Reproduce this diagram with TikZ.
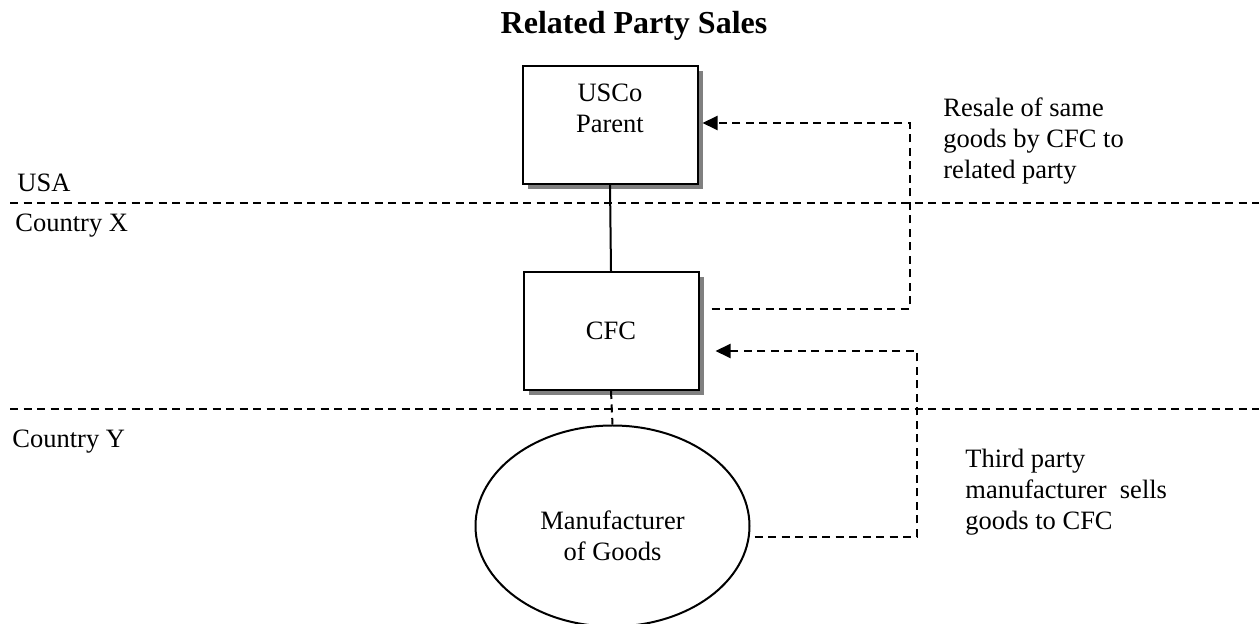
\documentclass[tikz,border=0pt]{standalone}
\usepackage{fontspec}
\setmainfont{Liberation Serif}
\usetikzlibrary{arrows.meta,shapes.geometric,shadows}
\begin{document}
\begin{tikzpicture}[x=0.5pt,y=-0.5pt,
  txt/.style={font=\fontsize{13.25}{15.5}\selectfont, inner sep=0pt},
  boxst/.style={draw, line width=1pt, fill=white, minimum width=87.5pt, minimum height=59pt, inner sep=0pt,
    drop shadow={shadow xshift=2.75pt, shadow yshift=-2.75pt, fill=black!50, opacity=1}},
  ovalst/.style={draw, ellipse, line width=1pt, minimum width=137pt, minimum height=100.5pt, inner sep=0pt},
  border/.style={line width=1pt, dash pattern=on 4pt off 2.75pt},
  flow/.style={line width=1pt, dash pattern=on 4pt off 2.75pt, -{Triangle[length=7.5pt,width=7pt]}},
  plain/.style={line width=1pt, dash pattern=on 4pt off 2.75pt},
  tie/.style={line width=1pt}]
\useasboundingbox (0,0) rectangle (1259,624);

% title
\node[inner sep=0pt, anchor=base, font=\fontsize{16}{19}\selectfont\bfseries] (title) at (634,34) {Related Party Sales};

% boundary lines
\coordinate (b1l) at (10,203); \coordinate (b1r) at (1259,203);
\coordinate (b2l) at (10,409); \coordinate (b2r) at (1259,409);
\draw[border] (b1l) -- (b1r);
\draw[border] (b2l) -- (b2r);

% country labels
\node[txt, anchor=base west] (usa) at (17,192) {USA};
\node[txt, anchor=base west] (cx) at (15,232) {Country X};
\node[txt, anchor=base west] (cy) at (12,448) {Country Y};

% entities
\node[boxst] (usco) at (610,125) {};
\node[txt, align=center, anchor=north] (uscot) at (610,84) {USCo\\Parent};
\node[boxst, font=\fontsize{13.25}{15.5}\selectfont] (cfc) at (611,331) {CFC};
\node[ovalst] (mfr) at (612.5,526) {};
\node[txt, align=center, anchor=north] (mfrt) at (612.5,510) {Manufacturer\\of Goods};

% links
\draw[tie] (usco.south) -- (cfc.north);
\draw[plain] (cfc.south) -- (mfr.north);

\draw[flow] ([xshift=6pt,yshift=11pt]cfc.east) -- ++(198,0) |- ([xshift=2pt,yshift=1pt]usco.east);
\draw[flow] ([xshift=2pt,yshift=-5.5pt]mfr.east) -- ++(162,0) |- ([xshift=8pt,yshift=-10pt]cfc.east);

% notes
\node[txt, align=left, anchor=north west] (note1) at (943,97) {Resale of same\\goods by CFC to\\related party};
\node[txt, align=left, anchor=north west] (note2) at (965,449) {Third party\\manufacturer\ \ sells\\goods to CFC};
\end{tikzpicture}
\end{document}
